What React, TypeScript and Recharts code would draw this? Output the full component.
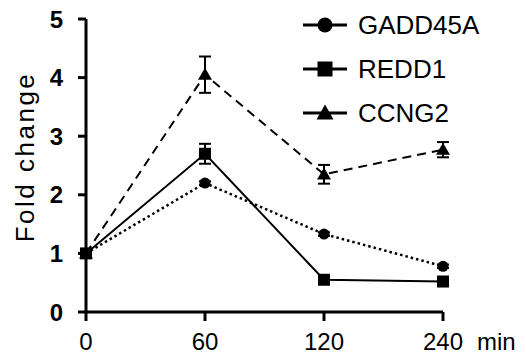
import { LineChart, Line, XAxis, YAxis, ErrorBar, Legend, Label } from "recharts"

const times = ["0", "60", "120", "240"]
const gadd45a = [1, 2.2, 1.33, 0.78]
const redd1 = [1, 2.7, 0.55, 0.52]
const ccng2 = [1, 4.05, 2.35, 2.77]
const gadd45aErr = [0.02, 0.03, 0.03, 0.03]
const redd1Err = [0.03, 0.17, 0.03, 0.03]
const ccng2Err = [0.03, 0.31, 0.16, 0.13]
const yTicks = [0, 1, 2, 3, 4, 5]

const data = times.map((t, i) => ({
  time: t,
  GADD45A: gadd45a[i],
  gaddErr: gadd45aErr[i],
  REDD1: redd1[i],
  reddErr: redd1Err[i],
  CCNG2: ccng2[i],
  ccngErr: ccng2Err[i],
}))

const font = "'Liberation Sans', Arial, sans-serif"

const Marker = ({ shape, cx, cy, size }: any) => {
  if (cx == null || cy == null) return null
  if (shape === "circle") return <circle cx={cx} cy={cy} r={size / 2} fill="#000" />
  if (shape === "square")
    return <rect x={cx - size / 2} y={cy - size / 2} width={size} height={size} fill="#000" />
  const h = size * 0.95
  return (
    <polygon
      points={`${cx},${cy - h * 0.6} ${cx - size / 2 - 1},${cy + h * 0.45} ${cx + size / 2 + 1},${cy + h * 0.45}`}
      fill="#000"
    />
  )
}

const series = [
  { key: "GADD45A", err: "gaddErr", shape: "circle", dash: "2.5 3", width: 2.5 },
  { key: "REDD1", err: "reddErr", shape: "square", dash: undefined, width: 2 },
  { key: "CCNG2", err: "ccngErr", shape: "triangle", dash: "9 6", width: 2 },
]

const renderLegend = () => (
  <div style={{ fontFamily: font }}>
    {series.map((s) => (
      <div key={s.key} style={{ display: "flex", alignItems: "center", height: 44 }}>
        <svg width={44} height={20} style={{ marginRight: 11 }}>
          <line x1={0} y1={10} x2={44} y2={10} stroke="#000" strokeWidth={3} />
          <Marker shape={s.shape} cx={22} cy={10} size={15} />
        </svg>
        <span style={{ fontSize: 26, color: "#000" }}>{s.key}</span>
      </div>
    ))}
  </div>
)

export default function App() {
  return (
    <div style={{ position: "absolute", left: 0, top: 0 }}>
      <LineChart
        width={526}
        height={356}
        data={data}
        margin={{ top: 19, right: 83, bottom: 0, left: 0 }}
      >
        <XAxis
          dataKey="time"
          height={44}
          axisLine={{ stroke: "#000", strokeWidth: 3 }}
          tickLine={{ stroke: "#000", strokeWidth: 3 }}
          tickSize={9}
          tickMargin={12}
          tick={{ fill: "#000", fontSize: 24, fontFamily: font }}
          interval={0}
        >
          <Label
            content={({ viewBox }: any) => (
              <text
                x={viewBox.x + viewBox.width + 34}
                y={viewBox.y + 38}
                fontSize={24}
                fontFamily={font}
                fill="#000"
              >
                min
              </text>
            )}
          />
        </XAxis>
        <YAxis
          width={86}
          domain={[0, 5]}
          ticks={yTicks}
          interval={0}
          axisLine={{ stroke: "#000", strokeWidth: 3 }}
          tickLine={{ stroke: "#000", strokeWidth: 3 }}
          tickSize={8}
          tickMargin={15}
          tick={{ fill: "#000", fontSize: 24, fontWeight: "bold", fontFamily: font }}
        >
          <Label
            content={() => (
              <text
                x={34}
                y={157}
                transform="rotate(-90 34 157)"
                textAnchor="middle"
                fontSize={26}
                letterSpacing={2.5}
                fontFamily={font}
                fill="#000"
              >
                Fold change
              </text>
            )}
          />
        </YAxis>
        <Legend
          layout="vertical"
          align="center"
          verticalAlign="middle"
          wrapperStyle={{ top: 3, left: 303, width: 223 }}
          content={renderLegend}
        />
        {series.map((s) => (
          <Line
            key={s.key}
            dataKey={s.key}
            type="linear"
            stroke="#000"
            strokeWidth={s.width}
            strokeDasharray={s.dash}
            isAnimationActive={false}
            dot={(p: any) => <Marker key={`${s.key}-${p.index}`} shape={s.shape} cx={p.cx} cy={p.cy} size={s.shape === "circle" ? 11 : 12} />}
            activeDot={false}
          >
            <ErrorBar dataKey={s.err} direction="y" width={6} stroke="#000" strokeWidth={2} />
          </Line>
        ))}
      </LineChart>
    </div>
  )
}
